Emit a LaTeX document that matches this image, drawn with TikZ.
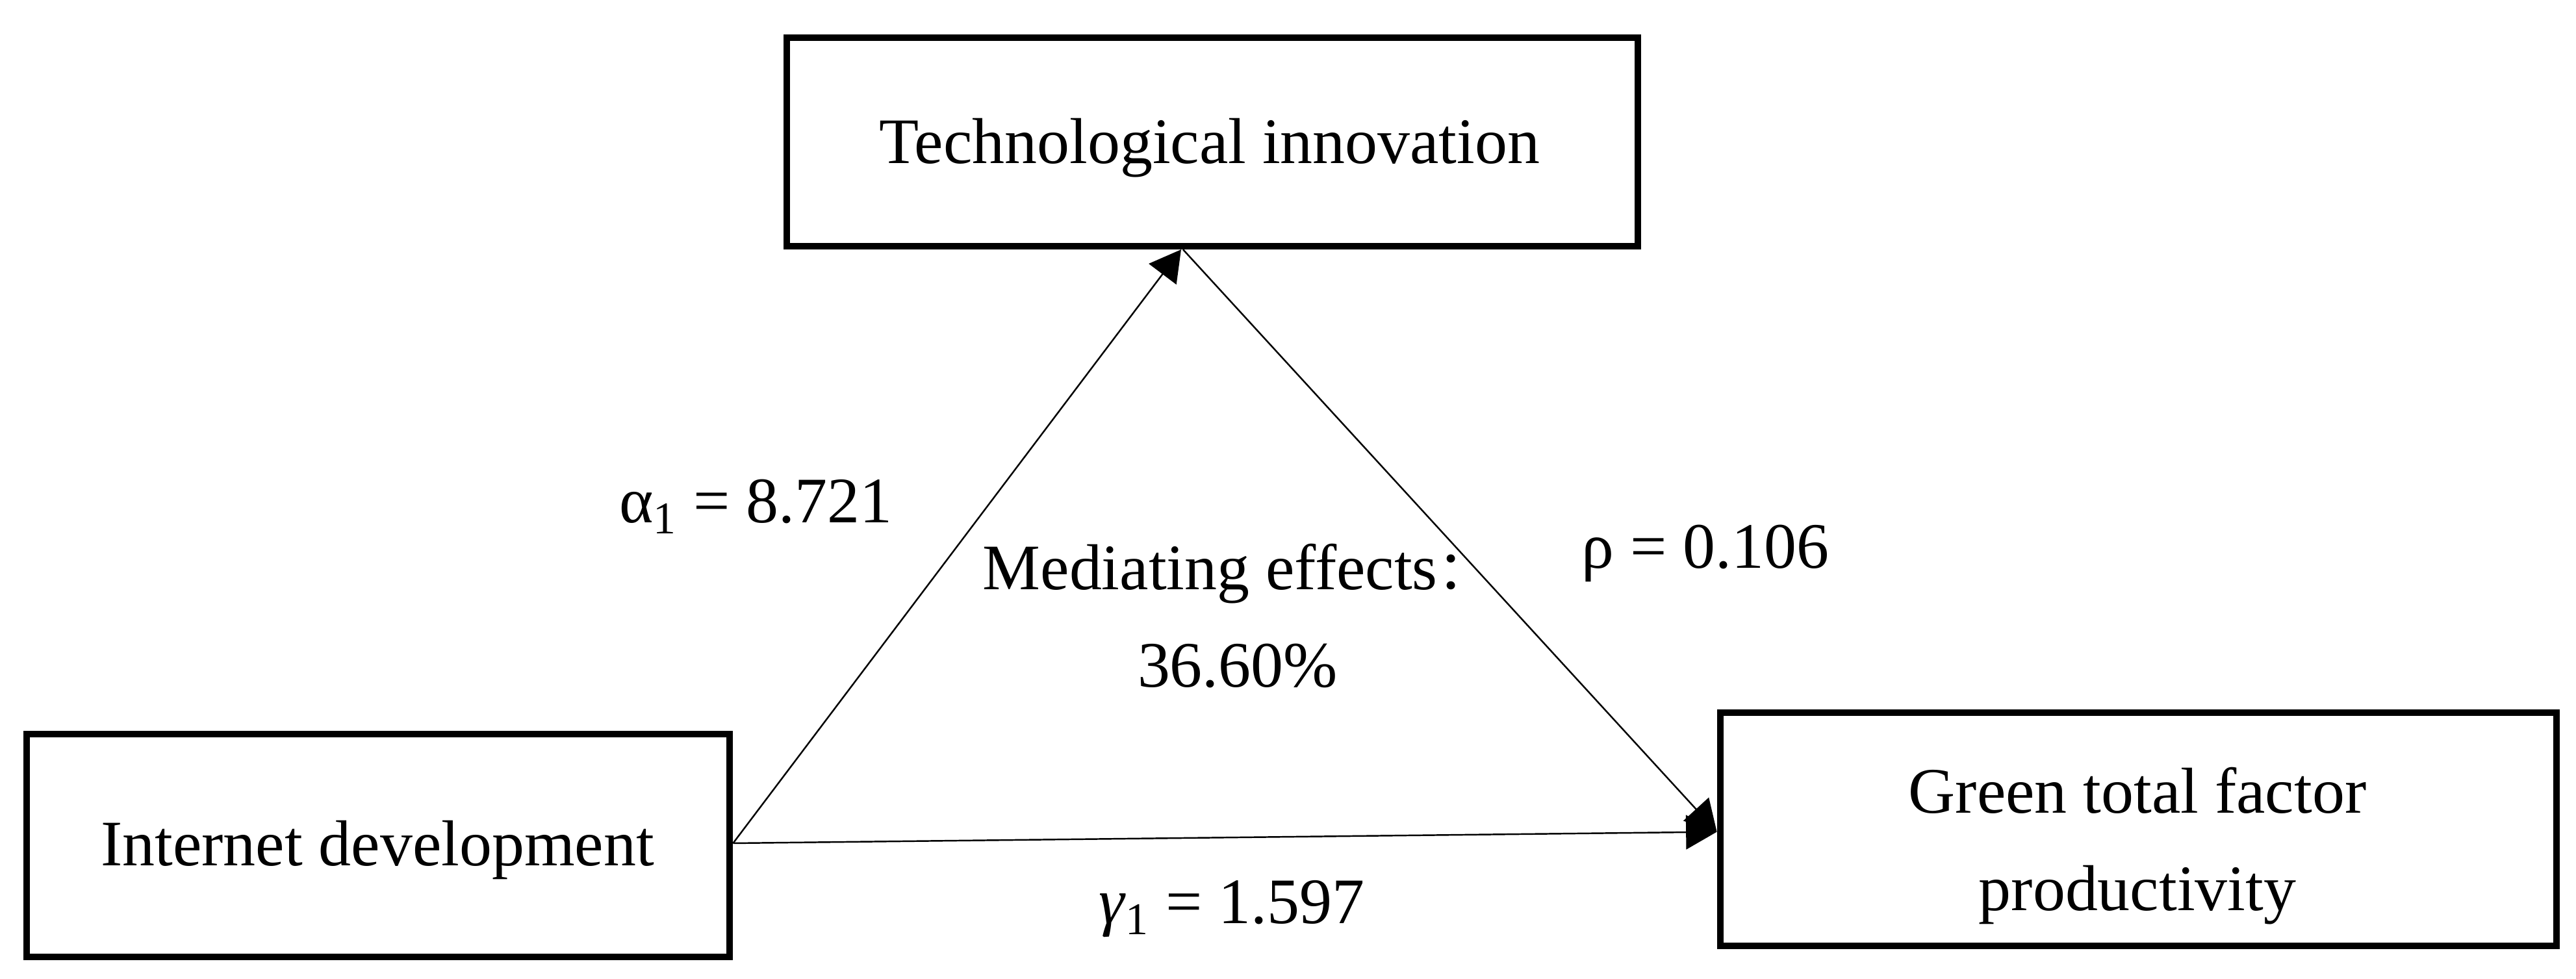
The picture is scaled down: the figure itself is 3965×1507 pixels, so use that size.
\documentclass[tikz,border=0pt]{standalone}
\usepackage{fontspec}
\setmainfont{Liberation Serif}
\newfontfamily\cjk{Noto Sans CJK SC}
\usetikzlibrary{arrows.meta}
\begin{document}
\begin{tikzpicture}[x=0.01cm,y=-0.01cm,
  box/.style={draw=black, line width=3pt, inner sep=0pt},
  txt/.style={font=\fontsize{28.4}{42.7}\selectfont, inner sep=0pt},
  conn/.style={draw=black, line width=0.7pt},
  arr/.style={conn, -{Triangle[length=13.5pt,width=15pt]}}]
\useasboundingbox (0,0) rectangle (3965,1507);

% boxes
\node[box, minimum width=13.095cm, minimum height=3.205cm] (tech) at (1866,218.5) {};
\node[box, minimum width=10.815cm, minimum height=3.425cm] (inet) at (582,1301.5) {};
\node[box, minimum width=12.865cm, minimum height=3.585cm] (green) at (3291.5,1276.5) {};

% box texts
\node[txt, anchor=base] (techtxt) at (1862,252) {Technological innovation};
\node[txt, anchor=base] (inettxt) at (581,1333) {Internet development};
\node[txt, align=center, anchor=north] (greentxt) at (3290,1180) {Green total factor\\productivity};

% labels
\node[txt, anchor=base] (alpha) at (1163,805) {α\textsubscript{1} = 8.721};
\node[txt, anchor=base] (rho) at (2625,875) {ρ = 0.106};
\node[txt, anchor=base] (gamma) at (1896,1422) {\textit{γ}\textsubscript{1} = 1.597};
\node[txt, align=center, anchor=north] (med) at (1905,836) {Mediating effects{\cjk\fontsize{24}{42.7}\selectfont ：}\\36.60\%};

% connectors
\draw[arr] ([yshift=0.035cm]inet.east) -- ([xshift=-0.48cm]tech.south);
\draw[arr] ([xshift=-0.45cm]tech.south) -- ([yshift=-0.04cm]green.west);
\draw[arr] ([yshift=0.035cm]inet.east) -- ([yshift=-0.04cm]green.west);
\end{tikzpicture}
\end{document}
